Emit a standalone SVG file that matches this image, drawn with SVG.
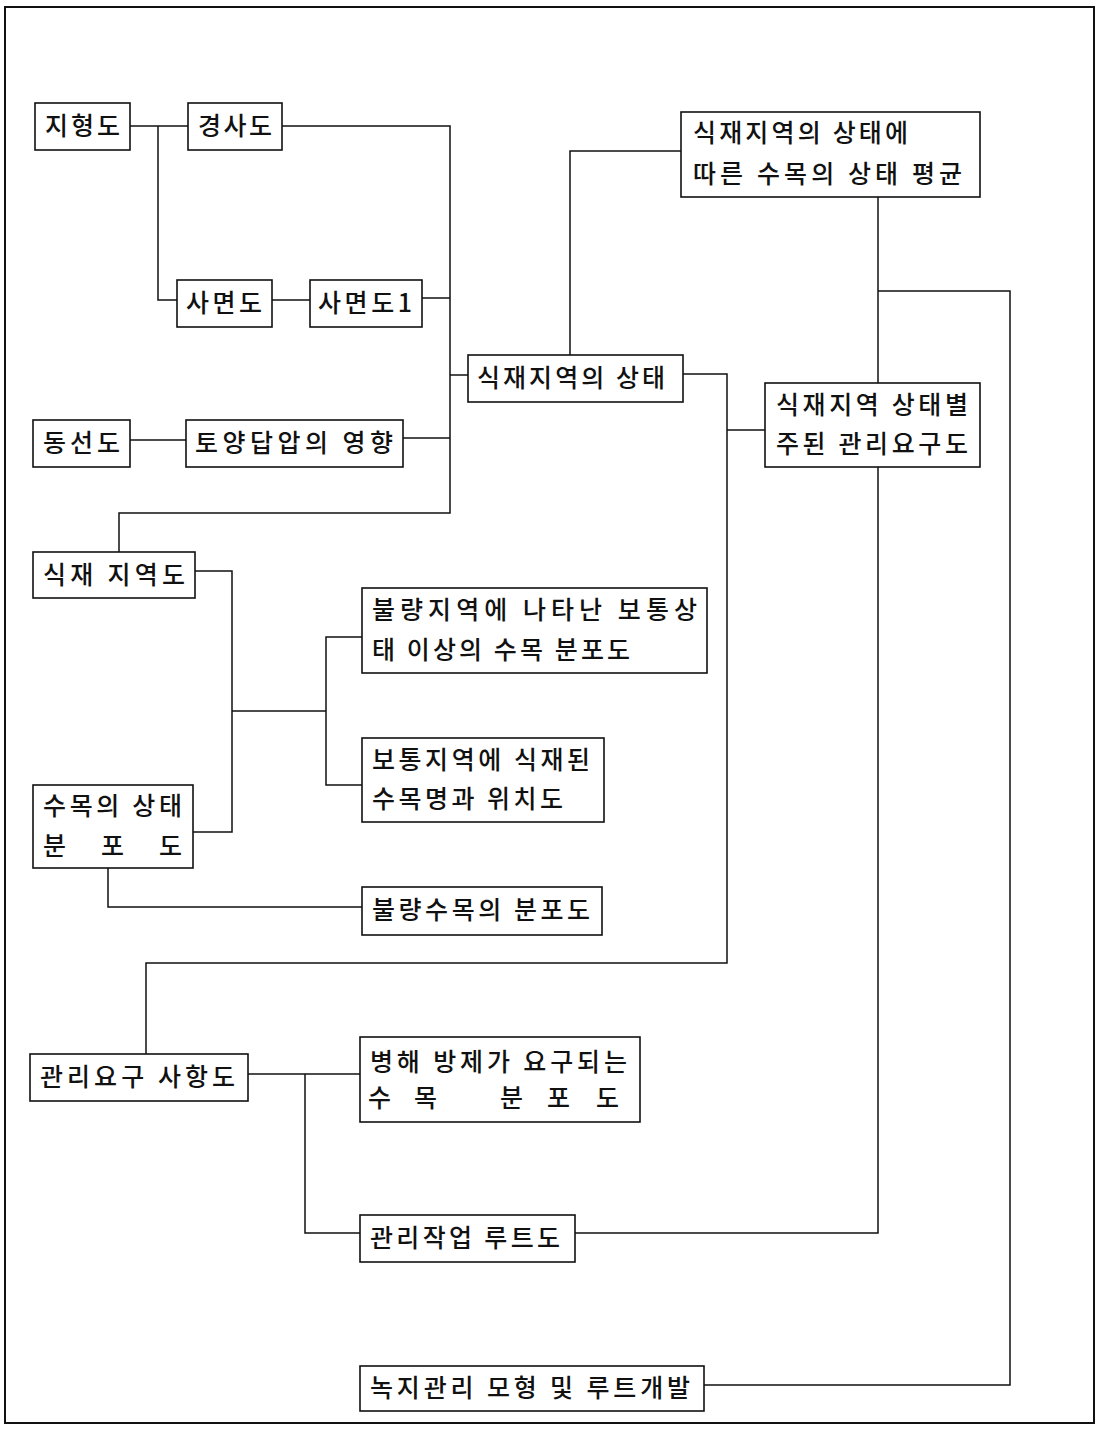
<svg xmlns="http://www.w3.org/2000/svg" width="1098" height="1429" viewBox="0 0 1098 1429">
<style>
.box{fill:#fff;stroke:#111;stroke-width:1.6}
.ln{fill:none;stroke:#111;stroke-width:1.5}
.frame{fill:none;stroke:#111;stroke-width:2}
text{font-family:"Noto Sans CJK KR","Noto Sans",sans-serif;font-size:25px;font-weight:500;fill:#111}
</style>
<rect width="1098" height="1429" fill="#fff"/>
<rect class="frame" x="5" y="7" width="1089" height="1416"/>
<g id="connectors">
<path class="ln" d="M130 126 H188"/>
<path class="ln" d="M158 126 V300 H177"/>
<path class="ln" d="M272 300 H310"/>
<path class="ln" d="M282 126 H450 V513 H119 V552"/>
<path class="ln" d="M422 298 H450"/>
<path class="ln" d="M130 440 H186"/>
<path class="ln" d="M403 438 H450"/>
<path class="ln" d="M450 375 H468"/>
<path class="ln" d="M570 355 V151 H681"/>
<path class="ln" d="M683 374 H727 V963 H146 V1054"/>
<path class="ln" d="M727 430 H765"/>
<path class="ln" d="M878 197 V383"/>
<path class="ln" d="M878 291 H1010 V1385 H704"/>
<path class="ln" d="M878 467 V1233 H575"/>
<path class="ln" d="M195 571 H232 V832 H193"/>
<path class="ln" d="M232 711 H326"/>
<path class="ln" d="M362 637 H326 V785 H362"/>
<path class="ln" d="M108 868 V907 H362"/>
<path class="ln" d="M248 1074 H360"/>
<path class="ln" d="M305 1074 V1233 H360"/>
</g>
<g id="n-jihyeongdo"><rect class="box" x="35" y="103" width="95" height="47"/><text x="45" y="135" textLength="75" lengthAdjust="spacing">지형도</text></g>
<g id="n-gyeongsado"><rect class="box" x="188" y="103" width="94" height="47"/><text x="198" y="135" textLength="74" lengthAdjust="spacing">경사도</text></g>
<g id="n-samyeondo"><rect class="box" x="177" y="280" width="95" height="47"/><text x="186" y="312" textLength="76" lengthAdjust="spacing">사면도</text></g>
<g id="n-samyeondo1"><rect class="box" x="310" y="280" width="112" height="47"/><text x="318" y="312" textLength="94" lengthAdjust="spacing">사면도1</text></g>
<g id="n-dongseondo"><rect class="box" x="33" y="420" width="97" height="47"/><text x="43" y="452" textLength="77" lengthAdjust="spacing">동선도</text></g>
<g id="n-toyang"><rect class="box" x="186" y="420" width="217" height="47"/><text x="195" y="452" textLength="198" lengthAdjust="spacing">토양답압의 영향</text></g>
<g id="n-sikjae-state"><rect class="box" x="468" y="355" width="215" height="47"/><text x="477" y="387" textLength="188" lengthAdjust="spacing">식재지역의 상태</text></g>
<g id="n-avg"><rect class="box" x="681" y="112" width="299" height="85"/><text x="693" y="142" textLength="215" lengthAdjust="spacing">식재지역의 상태에</text><text x="693" y="183" textLength="269" lengthAdjust="spacing">따른 수목의 상태 평균</text></g>
<g id="n-mgmt-req"><rect class="box" x="765" y="383" width="215" height="84"/><text x="776" y="414" textLength="192" lengthAdjust="spacing">식재지역 상태별</text><text x="776" y="453" textLength="192" lengthAdjust="spacing">주된 관리요구도</text></g>
<g id="n-sikjae-area"><rect class="box" x="33" y="552" width="162" height="46"/><text x="43" y="584" textLength="142" lengthAdjust="spacing">식재 지역도</text></g>
<g id="n-bad-area"><rect class="box" x="362" y="588" width="345" height="85"/><text x="372" y="619" textLength="325" lengthAdjust="spacing">불량지역에 나타난 보통상</text><text x="372" y="659" textLength="258" lengthAdjust="spacing">태 이상의 수목 분포도</text></g>
<g id="n-normal-area"><rect class="box" x="362" y="738" width="242" height="84"/><text x="372" y="769" textLength="218" lengthAdjust="spacing">보통지역에 식재된</text><text x="372" y="808" textLength="191" lengthAdjust="spacing">수목명과 위치도</text></g>
<g id="n-tree-state"><rect class="box" x="33" y="785" width="160" height="83"/><text x="43" y="815" textLength="139" lengthAdjust="spacing">수목의 상태</text><text x="43" y="855" textLength="139" lengthAdjust="spacing">분 포 도</text></g>
<g id="n-bad-tree"><rect class="box" x="362" y="887" width="240" height="48"/><text x="372" y="919" textLength="218" lengthAdjust="spacing">불량수목의 분포도</text></g>
<g id="n-req-items"><rect class="box" x="30" y="1054" width="218" height="47"/><text x="40" y="1086" textLength="195" lengthAdjust="spacing">관리요구 사항도</text></g>
<g id="n-pest"><rect class="box" x="360" y="1037" width="280" height="85"/><text x="370" y="1071" textLength="257" lengthAdjust="spacing">병해 방제가 요구되는</text><text y="1107"><tspan x="368">수</tspan> <tspan x="414">목</tspan> <tspan x="500">분</tspan> <tspan x="547">포</tspan> <tspan x="596">도</tspan></text></g>
<g id="n-route"><rect class="box" x="360" y="1215" width="215" height="47"/><text x="370" y="1247" textLength="190" lengthAdjust="spacing">관리작업 루트도</text></g>
<g id="n-model"><rect class="box" x="360" y="1366" width="344" height="45"/><text x="370" y="1397" textLength="320" lengthAdjust="spacing">녹지관리 모형 및 루트개발</text></g>
</svg>
